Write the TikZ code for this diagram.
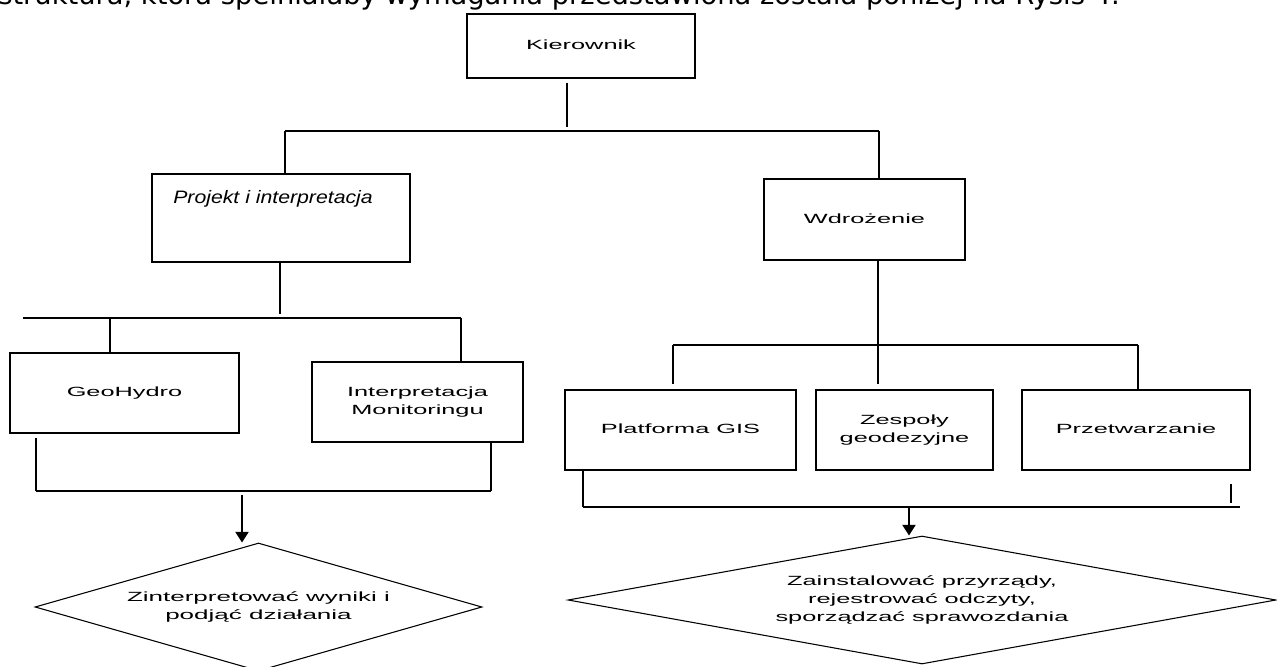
\documentclass[tikz,border=0pt]{standalone}
\usepackage{fontspec}
\setmainfont{Liberation Sans}
\newfontfamily\topfont{DejaVu Sans}
\usetikzlibrary{shapes.geometric,arrows.meta}
\newcommand{\sx}[2]{\scalebox{#1}[1]{\begin{tabular}{@{}c@{}}#2\end{tabular}}}
\begin{document}
\begin{tikzpicture}[x=0.75pt,y=-0.75pt,
  boxnode/.style={draw,line width=1.1pt,rectangle,inner sep=0pt,
    font=\fontsize{10}{13.5}\selectfont},
  dianode/.style={draw,line width=0.8pt,diamond,inner sep=0pt,
    font=\fontsize{10}{13.5}\selectfont},
  conn/.style={line width=1pt},
  bus/.style={line width=0.9pt},
  arr/.style={line width=1pt,-{Triangle[length=8pt,width=10pt]}}]
\useasboundingbox (0,0) rectangle (1277,667);
% caption cut at top
\node[anchor=base west,inner sep=0pt] (cap) at (-2,5)
  {\resizebox{841pt}{!}{\topfont struktura, która spełniałaby wymagania przedstawiona została poniżej na Rysis 4.}};
% boxes
\node[boxnode,minimum width=171pt,minimum height=48pt] (kier) at (581,46) {\sx{1.9}{Kierownik}};
\node[boxnode,minimum width=193.5pt,minimum height=66pt] (proj) at (281,218) {};
\node[anchor=west,inner sep=0pt,font=\fontsize{13.5}{15}\selectfont\itshape] (projt) at (173,199)
  {\scalebox{1.18}[1]{Projekt i interpretacja}};
\node[boxnode,minimum width=150.75pt,minimum height=60.75pt] (wdr) at (864.5,219.5) {\sx{1.9}{Wdrożenie}};
\node[boxnode,minimum width=171.75pt,minimum height=60pt] (geo) at (124.5,393) {\sx{1.9}{GeoHydro}};
\node[boxnode,minimum width=158.25pt,minimum height=60pt] (interp) at (417.5,402) {\sx{1.9}{Interpretacja\\Monitoringu}};
\node[boxnode,minimum width=173.25pt,minimum height=60pt] (plat) at (680.5,430) {\sx{1.9}{Platforma GIS}};
\node[boxnode,minimum width=132.75pt,minimum height=60pt] (zesp) at (904.5,430) {\sx{1.9}{Zespoły\\geodezyjne}};
\node[boxnode,minimum width=171pt,minimum height=60pt] (przet) at (1136,430) {\sx{1.9}{Przetwarzanie}};
\node[dianode,aspect=3.5,minimum width=335.25pt,minimum height=96pt] (ldia) at (258.5,607)
  {\sx{1.95}{Zinterpretować wyniki i\\podjąć działania}};
\node[dianode,aspect=5,minimum width=531pt,minimum height=96pt] (rdia) at (922,600)
  {\sx{1.9}{Zainstalować przyrządy,\\rejestrować odczyty,\\sporządzać sprawozdania}};
% top bus
\coordinate (a1) at (567,131);
\coordinate (a2) at (285,131);
\coordinate (a3) at (879,131);
\draw[conn] ([yshift=-3pt]kier.south -| a1) -- ([yshift=3pt]a1);
\draw[bus] (a2) -- (a3);
\draw[conn] (a2) -- (a2 |- proj.north);
\draw[conn] (a3) -- (a3 |- wdr.north);
% left bus
\coordinate (b0) at (23,318);
\coordinate (b1) at (280,318);
\coordinate (b2) at (461,318);
\coordinate (b3) at (110,318);
\draw[conn] (proj.south -| b1) -- ([yshift=3pt]b1);
\draw[bus] (b0) -- (b2);
\draw[conn] (b3) -- (b3 |- geo.north);
\draw[conn] (b2) -- (b2 |- interp.north);
% left lower bus
\coordinate (c0) at (36,491);
\coordinate (c1) at (491,491);
\coordinate (c2) at (242,495);
\draw[conn] ([yshift=-3.5pt]geo.south -| c0) -- (c0);
\draw[conn] (interp.south -| c1) -- (c1);
\draw[bus] (c0) -- (c1);
\draw[arr] (c2) -- (c2 |- ldia.north);
% right bus
\coordinate (d0) at (673,345);
\coordinate (d1) at (878,345);
\coordinate (d2) at (1138,345);
\draw[conn] (wdr.south -| d1) -- (d1);
\draw[bus] (d0) -- (d2);
\draw[conn] (d0) -- ([yshift=3.75pt]d0 |- plat.north);
\draw[conn] (d1) -- ([yshift=3.75pt]d1 |- zesp.north);
\draw[conn] (d2) -- (d2 |- przet.north);
% right lower bus
\coordinate (e0) at (583,507);
\coordinate (e1) at (1240,507);
\coordinate (e2) at (909,507);
\coordinate (s1) at (1231,484);
\coordinate (s2) at (1231,503);
\draw[conn] (plat.south -| e0) -- (e0);
\draw[bus] (e0) -- (e1);
\draw[conn] (s1) -- (s2);
\draw[arr] (e2) -- (e2 |- rdia.north);
\end{tikzpicture}
\end{document}
